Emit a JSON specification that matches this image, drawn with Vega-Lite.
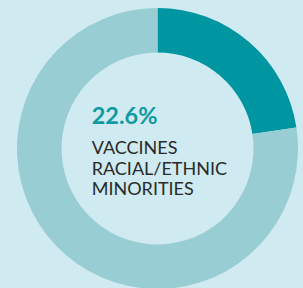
{
  "$schema": "https://vega.github.io/schema/vega-lite/v6.json",
  "width": 303,
  "height": 288,
  "autosize": {"type": "fit", "contains": "padding"},
  "padding": {"left": 12, "top": 9, "right": 0, "bottom": 0},
  "background": "#cfeaf0",
  "config": {"view": {"stroke": null}},
  "data": {"values": [
    {"group": "Racial/ethnic minorities", "share": 0.226},
    {"group": "Other", "share": 0.774}
  ]},
  "layer": [
    {
      "mark": {"type": "arc", "outerRadius": 140.5, "innerRadius": 96},
      "encoding": {
        "theta": {"field": "share", "type": "quantitative", "stack": true},
        "order": {"field": "share", "sort": "ascending"},
        "color": {"field": "group", "type": "nominal", "legend": null,
          "scale": {"domain": ["Racial/ethnic minorities", "Other"], "range": ["#0096a1", "#98cdd3"]}}
      }
    },
    {
      "transform": [{"filter": "datum.group === 'Racial/ethnic minorities'"}],
      "mark": {"type": "text", "align": "left", "baseline": "alphabetic", "dx": -65.8, "dy": -24.5,
        "font": "Lato", "fontWeight": "bold", "fontSize": 23.5, "color": "#0f9aa3"},
      "encoding": {
        "text": {"field": "share", "type": "quantitative", "format": ".1%"}
      }
    },
    {
      "transform": [{"filter": "datum.group === 'Racial/ethnic minorities'"}],
      "mark": {"type": "text", "align": "left", "baseline": "alphabetic", "dx": -65.8, "dy": 5.5,
        "font": "Lato", "fontSize": 18, "lineHeight": 20.5, "color": "#2a2a2a"},
      "encoding": {
        "text": {"value": ["VACCINES", "RACIAL/ETHNIC", "MINORITIES"]}
      }
    }
  ]
}
